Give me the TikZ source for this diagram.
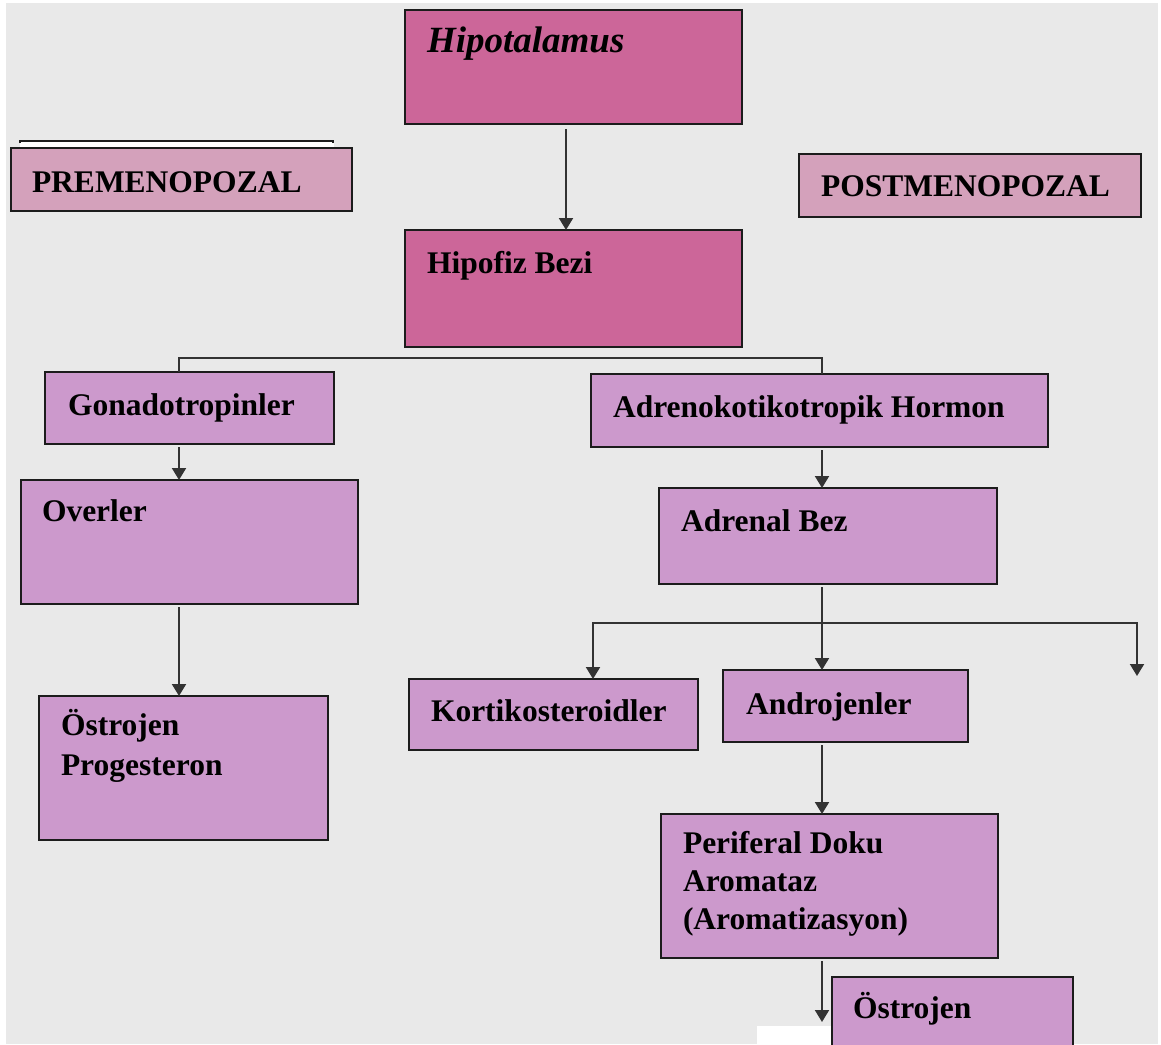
\documentclass[tikz,border=0pt]{standalone}
\usepackage{fontspec}
\setmainfont{Liberation Serif}
\usetikzlibrary{arrows.meta}
\definecolor{bg}{HTML}{E9E9E9}
\definecolor{topbox}{HTML}{CC6699}
\definecolor{menobox}{HTML}{D4A1BB}
\definecolor{purplebox}{HTML}{CC99CC}
\definecolor{edgecol}{HTML}{1C1C1C}
\definecolor{conncol}{HTML}{333333}
\begin{document}
\begin{tikzpicture}[x=1pt,y=-1pt,
  box/.style={draw=edgecol, line width=2pt, inner sep=0pt, outer sep=0pt, anchor=north west},
  txt/.style={anchor=base west, inner sep=0pt, outer sep=0pt, font=\fontsize{31.5}{37}\selectfont\bfseries},
  conn/.style={draw=conncol, line width=2pt},
  arr/.style={conn, -{Triangle[width=14pt,length=12pt]}}
]
\useasboundingbox (0,0) rectangle (1161,1044);
\fill[white] (0,0) rectangle (1161,1044);
\fill[bg] (6,3) rectangle (1158,1044);

% boxes
\node[box, fill=topbox, minimum width=337, minimum height=114] (hip) at (405,10) {};
\node[box, fill=topbox, minimum width=337, minimum height=117] (hipo) at (405,230) {};
\fill[white] (20,141) rectangle (334,148);
\draw[edgecol, line width=1.5pt] (20,143) -- (20,141) -- (333,141) -- (333,143);
\node[box, fill=menobox, minimum width=341, minimum height=63] (pre) at (11,148) {};
\node[box, fill=menobox, minimum width=342, minimum height=63] (post) at (799,154) {};
\node[box, fill=purplebox, minimum width=289, minimum height=72] (gona) at (45,372) {};
\node[box, fill=purplebox, minimum width=337, minimum height=124] (over) at (21,480) {};
\node[box, fill=purplebox, minimum width=289, minimum height=144] (ostro) at (39,696) {};
\node[box, fill=purplebox, minimum width=457, minimum height=73] (acth) at (591,374) {};
\node[box, fill=purplebox, minimum width=338, minimum height=96] (adr) at (659,488) {};
\node[box, fill=purplebox, minimum width=289, minimum height=71] (kort) at (409,679) {};
\node[box, fill=purplebox, minimum width=245, minimum height=72] (andro) at (723,670) {};
\node[box, fill=purplebox, minimum width=337, minimum height=144] (peri) at (661,814) {};
\node[box, fill=purplebox, minimum width=241, minimum height=80] (ostroB) at (832,977) {};
\fill[white] (757,1026) rectangle (831,1044);

% texts
\node[txt, font=\fontsize{37}{42}\selectfont\bfseries\itshape] (tHip) at (427,52) {Hipotalamus};
\node[txt] (tHipo) at (427,273) {Hipofiz Bezi};
\node[txt] (tPre) at (32,192) {PREMENOPOZAL};
\node[txt] (tPost) at (821,196) {POSTMENOPOZAL};
\node[txt] (tGona) at (68,415) {Gonadotropinler};
\node[txt] (tOver) at (42,521) {Overler};
\node[txt] (tOstA) at (61,735) {Östrojen};
\node[txt] (tOstB) at (61,775) {Progesteron};
\node[txt] (tActh) at (613,417) {Adrenokotikotropik Hormon};
\node[txt] (tAdr) at (681,531) {Adrenal Bez};
\node[txt] (tKort) at (431,721) {Kortikosteroidler};
\node[txt] (tAndro) at (746,714) {Androjenler};
\node[txt] (tPeriA) at (683,853) {Periferal Doku};
\node[txt] (tPeriB) at (683,891) {Aromataz};
\node[txt] (tPeriC) at (683,929) {(Aromatizasyon)};
\node[txt] (tOstC) at (853,1018) {Östrojen};

% connectors
\coordinate (bl) at (179,358);
\coordinate (br) at (822,358);
\coordinate (hl) at (593,623);
\coordinate (hr) at (1137,623);
\coordinate (hrend) at (1137,676);
\coordinate (oe) at (822,1022);

\draw[arr] ([xshift=-7.5pt,yshift=-5pt]hip.south) -- ([xshift=-7.5pt]hipo.north);
\draw[conn] (gona.north -| bl) -- (bl) -- (br) -- (acth.north -| br);
\draw[arr] ([yshift=-3pt]gona.south -| bl) -- (over.north -| bl);
\draw[arr] ([yshift=-3pt]over.south -| bl) -- (ostro.north -| bl);
\draw[arr] ([yshift=-3pt]acth.south -| br) -- (adr.north -| br);
\draw[arr] ([yshift=-3pt]adr.south -| br) -- (andro.north -| br);
\draw[arr] (hl -| br) -| (kort.north -| hl);
\draw[arr] (hl -| br) -| (hrend);
\draw[arr] ([yshift=-3pt]andro.south -| br) -- (peri.north -| br);
\draw[arr] ([yshift=-3pt]peri.south -| br) -- (oe);
\end{tikzpicture}
\end{document}
